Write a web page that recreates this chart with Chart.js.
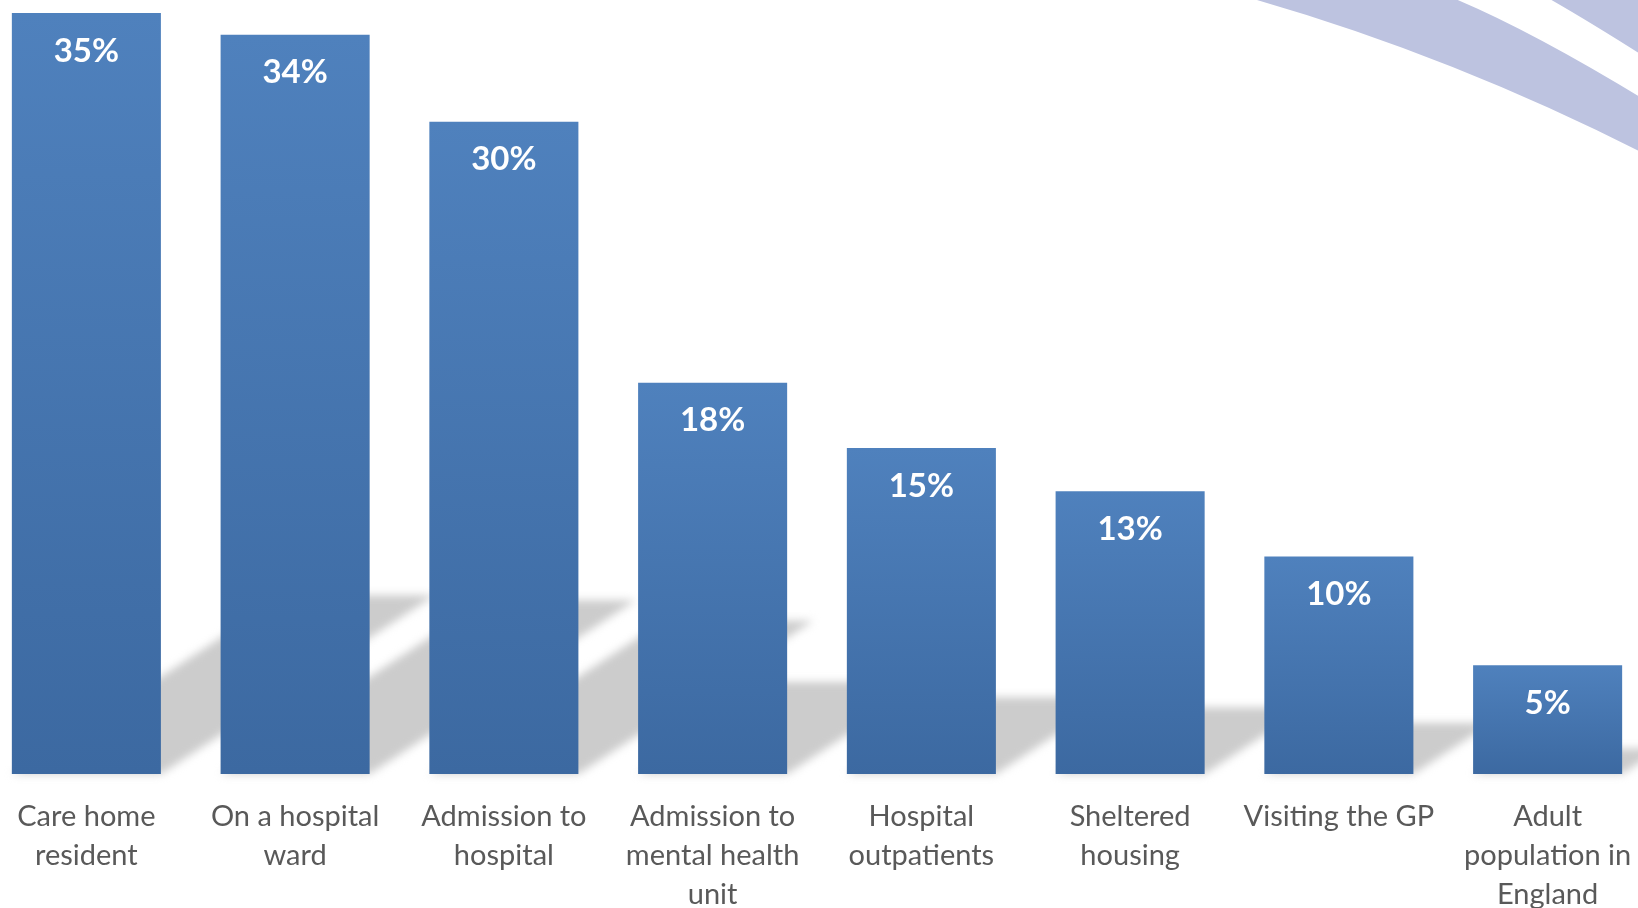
<!DOCTYPE html>
<html>
<head>
<meta charset="utf-8">
<script src="https://cdn.jsdelivr.net/npm/chart.js@4.4.0/dist/chart.umd.min.js"></script>
<style>
    html, body { margin: 0; padding: 0; background: #fff; overflow: hidden; }
    #wrap { position: absolute; left: -18px; top: 0; width: 1670px; height: 908px; }
</style>
</head>
<body>
<div id="wrap"><canvas id="setting_chart" width="1670" height="908"></canvas></div>
<script>
var categories = [
    ['Care home', 'resident'],
    ['On a hospital', 'ward'],
    ['Admission to', 'hospital'],
    ['Admission to', 'mental health', 'unit'],
    ['Hospital', 'outpatients'],
    ['Sheltered', 'housing'],
    ['Visiting the GP'],
    ['Adult', 'population in', 'England']
];
var percentValues = [35, 34, 30, 18, 15, 13, 10, 5];
var axisMin = 0;
var axisMax = 35.6;

var pageShift = 18; // canvas sits 18px left of the page edge

// decorative swoosh in the top right corner
var swoosh = {
    id: 'swoosh',
    beforeDraw: function (chart) {
        var ctx = chart.ctx;
        ctx.save();
        ctx.translate(pageShift, 0);
        ctx.fillStyle = '#BDC3E0';

        ctx.beginPath();
        ctx.moveTo(1250, -2);
        ctx.quadraticCurveTo(1450, 55, 1645, 154);
        ctx.lineTo(1645, 100);
        ctx.quadraticCurveTo(1530, 30, 1453, -2);
        ctx.closePath();
        ctx.fill();

        ctx.beginPath();
        ctx.moveTo(1548, -2);
        ctx.quadraticCurveTo(1590, 22, 1645, 57);
        ctx.lineTo(1645, -2);
        ctx.closePath();
        ctx.fill();
        ctx.restore();
    }
};

// soft perspective shadow cast by each bar
var barShadow = {
    id: 'barShadow',
    beforeDatasetsDraw: function (chart) {
        var ctx = chart.ctx;
        var bars = chart.getDatasetMeta(0).data;
        ctx.save();
        ctx.filter = 'blur(4px)';
        ctx.fillStyle = '#cccccc';
        ctx.beginPath();
        bars.forEach(function (bar) {
            var h = bar.base - bar.y;
            var left = bar.x - bar.width / 2;
            var right = bar.x + bar.width / 2;
            var dx = h * 0.36;
            var dy = h * 0.235;
            ctx.moveTo(left, bar.base);
            ctx.lineTo(right, bar.base);
            ctx.lineTo(right + dx, bar.base - dy);
            ctx.lineTo(left + dx, bar.base - dy);
            ctx.closePath();
        });
        ctx.fill();
        ctx.restore();
    }
};

var valueLabels = {
    id: 'valueLabels',
    afterDatasetsDraw: function (chart) {
        var ctx = chart.ctx;
        var bars = chart.getDatasetMeta(0).data;
        ctx.save();
        ctx.fillStyle = '#ffffff';
        ctx.font = 'bold 33px Lato';
        ctx.textAlign = 'center';
        ctx.textBaseline = 'middle';
        bars.forEach(function (bar, i) {
            ctx.fillText(percentValues[i] + '%', bar.x, bar.y + 38);
        });
        ctx.restore();
    }
};

setBarFill = (context) => {
    var chart = context.chart;
    var yScale = chart.scales.y;
    if (!chart.chartArea || !yScale || context.raw === undefined) {
        return '#4676B2';
    }
    var top = yScale.getPixelForValue(context.raw);
    var base = yScale.getPixelForValue(0);
    var g = chart.ctx.createLinearGradient(0, top, 0, base);
    g.addColorStop(0, '#4F81BD');
    g.addColorStop(1, '#3C69A1');
    return g;
};

Chart.defaults.font.family = 'Lato';

new Chart(document.getElementById('setting_chart'), {
    type: 'bar',
    data: {
        labels: categories,
        datasets: [{
            data: percentValues,
            backgroundColor: setBarFill,
            borderWidth: 0,
            categoryPercentage: 1,
            barPercentage: 0.714
        }]
    },
    options: {
        responsive: false,
        animation: false,
        layout: { padding: 0 },
        plugins: {
            legend: { display: false },
            tooltip: { enabled: false }
        },
        scales: {
            x: {
                grid: { display: false },
                border: { display: false },
                ticks: {
                    color: '#595959',
                    font: { size: 29, lineHeight: 1.35 },
                    padding: 15,
                    maxRotation: 0,
                    autoSkip: false
                },
                afterFit: function (scale) {
                    scale.height = 134;
                }
            },
            y: {
                display: false,
                min: axisMin,
                max: axisMax
            }
        }
    },
    plugins: [swoosh, barShadow, valueLabels]
});
</script>
</body>
</html>
